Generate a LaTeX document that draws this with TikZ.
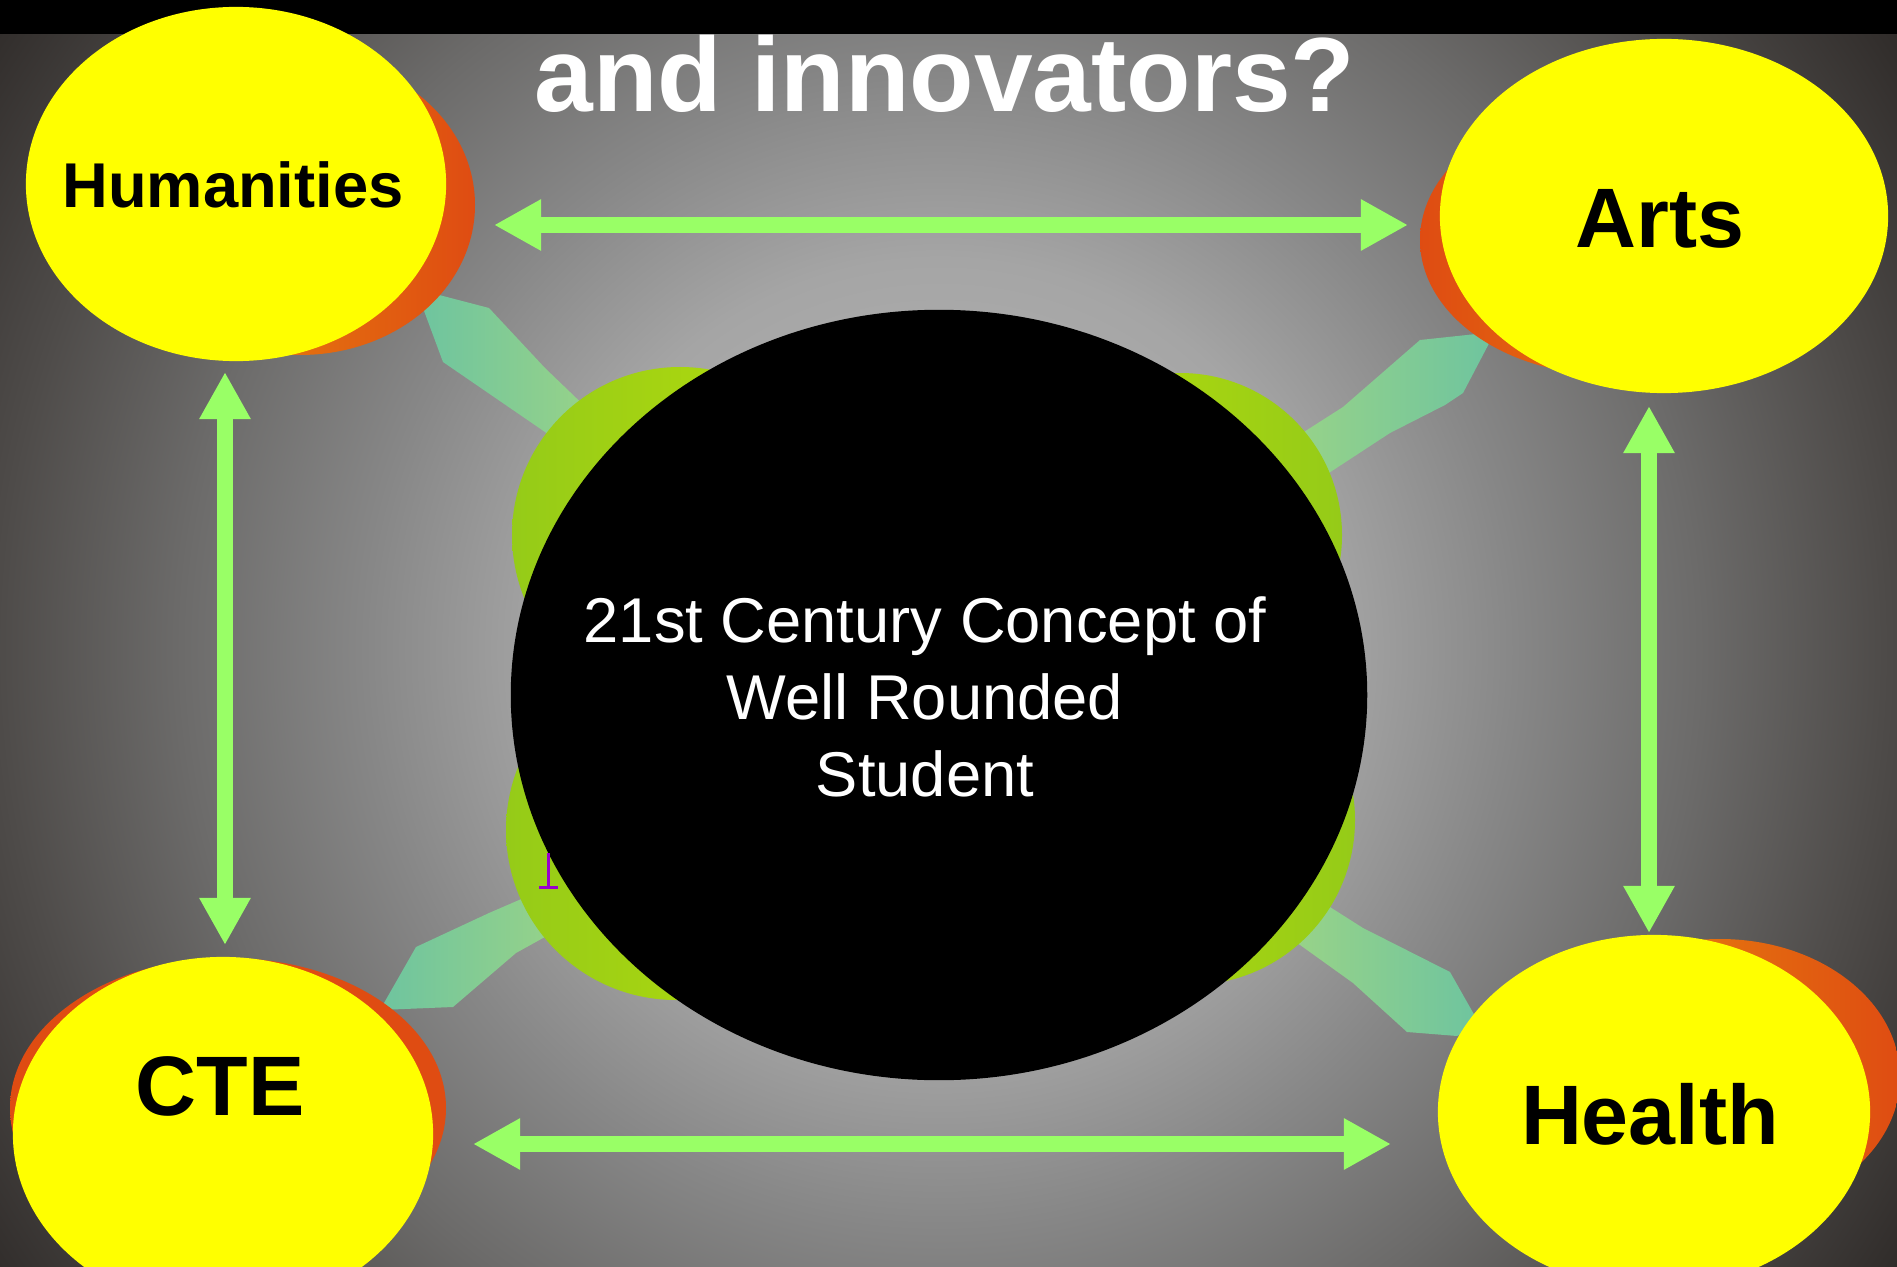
\documentclass[tikz,border=0pt]{standalone}
\usepackage{fontspec}
\setmainfont{Liberation Sans}
\usetikzlibrary{shapes.geometric,arrows.meta}
\definecolor{bgA}{HTML}{BDBDBD}
\definecolor{bgB}{HTML}{A5A5A5}
\definecolor{bgC}{HTML}{878787}
\definecolor{bgD}{HTML}{6C6B6A}
\definecolor{bgE}{HTML}{4E4B49}
\definecolor{bgF}{HTML}{2E2A28}
\definecolor{sun}{HTML}{FFFF00}
\definecolor{rimA}{HTML}{E8900C}
\definecolor{rimB}{HTML}{DF4C12}
\definecolor{budA}{HTML}{95CB18}
\definecolor{budB}{HTML}{B8DE0A}
\definecolor{stemA}{HTML}{6EC49F}
\definecolor{stemB}{HTML}{9ED585}
\definecolor{leaf}{HTML}{99FF66}
\definecolor{cursor}{HTML}{9900CC}
\pgfdeclareradialshading{halo}{\pgfpoint{0bp}{0bp}}{color(0bp)=(bgA); color(8.5bp)=(bgB); color(12.5bp)=(bgC); color(16.5bp)=(bgD); color(20.5bp)=(bgE); color(25bp)=(bgF); color(50bp)=(bgF)}
\tikzset{%
	topic/.style={ellipse, fill=sun, draw=none, inner sep=0pt, outer sep=0pt},
	core/.style={ellipse, fill=black, draw=none, inner sep=0pt,
		minimum width=8.56cm, minimum height=7.7cm},
	tag/.style={anchor=base, inner sep=0pt, font=\bfseries},
	link/.style={draw=leaf, line width=.16cm,
		arrows={Triangle[length=.47cm,width=.48cm]-Triangle[length=.47cm,width=.48cm]}},
	stem/.style={left color=stemA, right color=stemB},
	bud/.style={left color=budA, right color=budB},
	rim/.style={left color=rimA, right color=rimB}
}

\begin{document}
\begin{tikzpicture}[x=.01cm, y=-.01cm]
	\useasboundingbox (0,0) rectangle (1897,1267);
	\clip (0,0) rectangle (1897,1267);
	\fill[bgF] (0,0) rectangle (1897,1267);
	\shade[shading=halo] (940,650) circle [radius=1150];
	\node[tag, text=white, font=\bfseries\fontsize{30}{36}\selectfont] (title) at (945,112) {and innovators?};
	\fill[black] (0,0) rectangle (1897,34);

	\shade[stem] (420,290) -- (489,308) -- (545,368) -- (620,440) -- (590,470) -- (545,432) -- (443,362) -- (420,300) -- cycle;
	\shade[stem, left color=stemB, right color=stemA] (1260,460) -- (1343,407) -- (1420,340) -- (1495,332) -- (1463,393) -- (1445,405) -- (1390,433) -- (1280,505) -- cycle;
	\shade[stem] (570,878) -- (489,913) -- (416,947) -- (380,1010) -- (453,1007) -- (516,953) -- (590,912) -- cycle;
	\shade[stem, left color=stemB, right color=stemA] (1300,888) -- (1363,928) -- (1450,972) -- (1480,1025) -- (1457,1036) -- (1407,1032) -- (1353,983) -- (1268,922) -- cycle;

	\shade[bud] (680,535) circle [radius=168];
	\shade[bud, left color=budB, right color=budA] (1180,535) circle [radius=162];
	\shade[bud] (676,830) circle [radius=170];
	\shade[bud, left color=budB, right color=budA] (1190,820) circle [radius=165];

	\node[core] (core) at (939,695) {};
	\node[anchor=north, inner sep=0pt, text=white, align=center,
		font=\fontsize{18}{21.9}\selectfont] (idea) at (925,596) {21st Century Concept of\\Well Rounded\\Student};
	\draw[cursor, line width=.03cm] (548,853) -- (548,886);
	\draw[cursor, line width=.03cm] (539,887) -- (558,887);

	\shade[rim] (300,205) ellipse [x radius=175, y radius=150];
	\shade[rim, left color=rimB, right color=rimA] (1610,240) ellipse [x radius=190, y radius=135];
	\shade[rim, left color=rimB, middle color=rimA, right color=rimB] (228,1108) ellipse [x radius=218, y radius=150];
	\shade[rim] (1720,1077) ellipse [x radius=180, y radius=138];

	\node[topic, minimum width=4.2cm, minimum height=3.54cm] (hum) at (236,184) {};
	\node[topic, minimum width=4.48cm, minimum height=3.54cm] (arts) at (1664,216) {};
	\node[topic, minimum width=4.2cm, minimum height=3.54cm] (cte) at (223,1134) {};
	\node[topic, minimum width=4.32cm, minimum height=3.54cm] (health) at (1654,1112) {};

	\node[tag, font=\bfseries\fontsize{18}{22}\selectfont] (humtxt) at (233,208) {Humanities};
	\node[tag, font=\bfseries\fontsize{24}{29}\selectfont] (artstxt) at (1660,248) {Arts};
	\node[tag, font=\bfseries\fontsize{24}{29}\selectfont] (ctetxt) at (220,1115) {CTE};
	\node[tag, font=\bfseries\fontsize{24}{29}\selectfont] (healthtxt) at (1650,1144) {Health};

	\coordinate (hum-e) at (494,225);
	\coordinate (arts-w) at (1408,225);
	\coordinate (hum-s) at (225,372);
	\coordinate (cte-n) at (225,945);
	\coordinate (arts-s) at (1649,406);
	\coordinate (health-n) at (1649,933);
	\coordinate (cte-e) at (473,1144);
	\coordinate (health-w) at (1391,1144);
	\draw[link] (hum-e) -- (arts-w);
	\draw[link] (hum-s) -- (cte-n);
	\draw[link] (arts-s) -- (health-n);
	\draw[link] (cte-e) -- (health-w);
\end{tikzpicture}
\end{document}
